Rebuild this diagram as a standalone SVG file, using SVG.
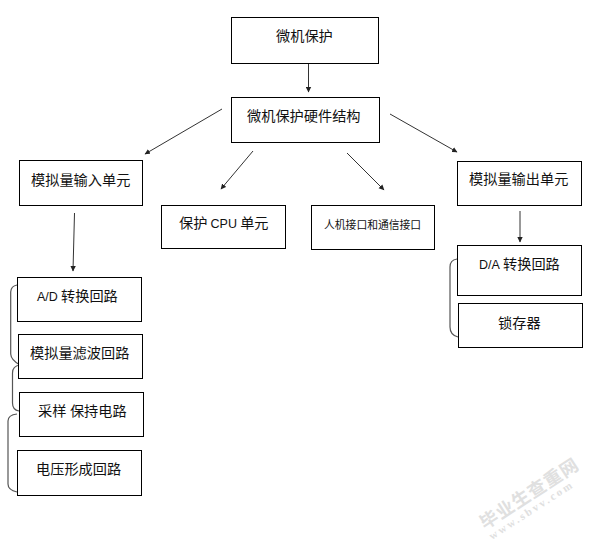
<svg xmlns="http://www.w3.org/2000/svg" width="603" height="544" viewBox="0 0 603 544">
<style>
.b{fill:#fff;stroke:#000;stroke-width:1}
.t{font-family:"Noto Sans CJK SC","Liberation Sans",sans-serif;font-size:14.2px;fill:#111}
.l{font-family:"Liberation Sans","Noto Sans CJK SC",sans-serif;font-size:12.500px;fill:#111}
.c{fill:none;stroke:#333;stroke-width:1;marker-end:url(#a)}
.k{fill:none;stroke:#555;stroke-width:1.2}
.w{font-family:"Liberation Serif","Noto Sans CJK SC",serif;fill:#e0e0e0}
</style>
<defs><marker id="a" markerUnits="userSpaceOnUse" markerWidth="6" markerHeight="6" refX="5" refY="3" orient="auto"><path d="M0,0.3L5.5,3L0,5.7z" fill="#222"/></marker></defs>
<rect width="603" height="544" fill="#fff"/>
<g id="connectors">
<path class="c" d="M308.500 64V92"/>
<path class="c" d="M222 109L145 154"/>
<path class="c" d="M253 151L221 189"/>
<path class="c" d="M347 153L384 190"/>
<path class="c" d="M390 114L457 152"/>
<path class="c" d="M74.500 213L73 271"/>
<path class="c" d="M520 211V242"/>
<path class="k" d="M17 285Q11 286 10.700 292V354Q11 360 20 365"/>
<path class="k" d="M20 365Q12.500 366 12.500 373V403Q12.500 410 19 411"/>
<path class="k" d="M17 414Q8 415 8 421V484Q8 490 17 492"/>
<path class="k" d="M457 259Q450 260 450 267V327Q450 335 458 337"/>
</g>
<g id="n1"><rect class="b" x="231.500" y="17.500" width="147" height="46"/><text class="t" x="276" y="41">微机保护</text></g>
<g id="n2"><rect class="b" x="231.500" y="97.500" width="148" height="45"/><text class="t" x="247" y="121">微机保护硬件结构</text></g>
<g id="n3"><rect class="b" x="19.500" y="160.500" width="123" height="45"/><text class="t" x="31" y="185">模拟量输入单元</text></g>
<g id="n4"><rect class="b" x="161.500" y="205.500" width="124" height="43"/><text class="t" x="179" y="228">保护 <tspan class="l">CPU</tspan> 单元</text></g>
<g id="n5"><rect class="b" x="311.500" y="205.500" width="123" height="44"/><text class="t" x="324" y="229" style="font-size:10.800px">人机接口和通信接口</text></g>
<g id="n6"><rect class="b" x="457.500" y="161.500" width="124" height="44"/><text class="t" x="469" y="184">模拟量输出单元</text></g>
<g id="n7"><rect class="b" x="17.500" y="277.500" width="124" height="44"/><text class="t" x="37" y="301"><tspan class="l">A/D</tspan> 转换回路</text></g>
<g id="n8"><rect class="b" x="18.500" y="334.500" width="124" height="44"/><text class="t" x="30" y="358">模拟量滤波回路</text></g>
<g id="n9"><rect class="b" x="19.500" y="392.500" width="124" height="44"/><text class="t" x="38" y="416">采样<tspan class="l" font-size="9"> </tspan>保持电路</text></g>
<g id="n10"><rect class="b" x="17.500" y="450.500" width="124" height="45"/><text class="t" x="36" y="474">电压形成回路</text></g>
<g id="n11"><rect class="b" x="457.500" y="245.500" width="124" height="50"/><text class="t" x="479" y="269"><tspan class="l">D/A</tspan> 转换回路</text></g>
<g id="n12"><rect class="b" x="458.500" y="303.500" width="124" height="44"/><text class="t" x="498" y="328">锁存器</text></g>
<text class="w" transform="translate(485 530) rotate(-33)" font-size="18" font-weight="bold" letter-spacing="1">毕业生查重网</text>
<text class="w" transform="translate(492 540) rotate(-33)" font-size="11" font-weight="bold" letter-spacing="2.500">www.sbvv.com</text>
</svg>
